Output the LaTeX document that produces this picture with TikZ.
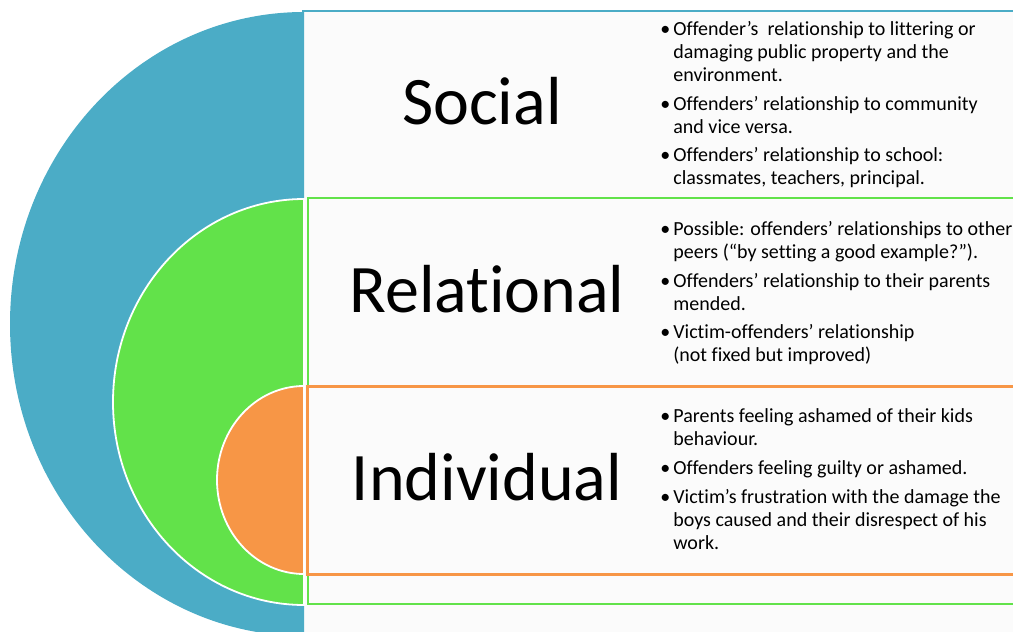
\documentclass[tikz,border=0pt]{standalone}
\usepackage{fontspec}
\setmainfont[Ligatures=NoCommon]{Carlito}
\usepackage{array}

\definecolor{socialblue}{RGB}{75,172,198}
\definecolor{relgreen}{RGB}{98,226,74}
\definecolor{indorange}{RGB}{247,150,70}
\definecolor{boxfill}{RGB}{251,251,251}

\tikzset{every picture/.style={line width=0.75pt}}
\tikzset{
  title/.style={anchor=base, inner sep=0pt, font=\fontsize{68}{80}\selectfont},
  points/.style={anchor=base west, inner sep=0pt, font=\fontsize{20}{23}\selectfont},
  halfdisc/.style={draw=white, line width=1.8pt}
}
\newcommand{\pt}{\makebox[13pt][l]{\textbullet}}

\begin{document}
\begin{tikzpicture}[x=1pt,y=1pt,yscale=-1]
\useasboundingbox (0,0) rectangle (1013,632);

%Shape: Rectangle [id:social box]
\draw [draw=socialblue, fill=boxfill, line width=2.5pt] (303,11) rectangle (1030,650);
%Shape: Half ellipse [id:social disc]
\fill [socialblue] (304,12) arc[start angle=-90, end angle=-270, x radius=294, y radius=312] -- cycle;

%Shape: Rectangle [id:relational box]
\draw [draw=relgreen, fill=boxfill, line width=2.5pt] (308,198) rectangle (1030,604);
%Shape: Half ellipse [id:relational disc]
\filldraw [halfdisc, fill=relgreen] (304,199) arc[start angle=-90, end angle=-270, x radius=191, y radius=203] -- cycle;

%Shape: Rectangle [id:individual box]
\draw [draw=indorange, fill=boxfill, line width=3pt] (307,386) rectangle (1030,574);
%Shape: Half ellipse [id:individual disc]
\filldraw [halfdisc, fill=indorange] (304,386) arc[start angle=-90, end angle=-270, x radius=87, y radius=94] -- cycle;

%Text: titles
\node [title] (social) at (482,124) {Social};
\node [title] (relational) at (487,312) {Relational};
\node [title] (individual) at (487,500) {Individual};

%Text: bullet points
\node [points] (socialpts) at (660,35) {\begin{tabular}[t]{@{}l@{}l@{}}
\pt & Offender’s\ \ relationship to littering or\\
 & damaging public property and the\\
 & environment.\\[6pt]
\pt & Offenders’ relationship to community\\
 & and vice versa.\\[5pt]
\pt & Offenders’ relationship to school:\\
 & classmates, teachers, principal.
\end{tabular}};

\node [points] (relationalpts) at (660,235) {\begin{tabular}[t]{@{}l@{}l@{}}
\pt & Possible: offenders’ relationships to other\\
 & peers (“by setting a good example?”).\\[6pt]
\pt & Offenders’ relationship to their parents\\
 & mended.\\[5pt]
\pt & Victim-offenders’ relationship\\
 & (not fixed but improved)
\end{tabular}};

\node [points] (individualpts) at (660,422) {\begin{tabular}[t]{@{}l@{}l@{}}
\pt & Parents feeling ashamed of their kids\\
 & behaviour.\\[6pt]
\pt & Offenders feeling guilty or ashamed.\\[6pt]
\pt & Victim’s frustration with the damage the\\
 & boys caused and their disrespect of his\\
 & work.
\end{tabular}};

\end{tikzpicture}
\end{document}
